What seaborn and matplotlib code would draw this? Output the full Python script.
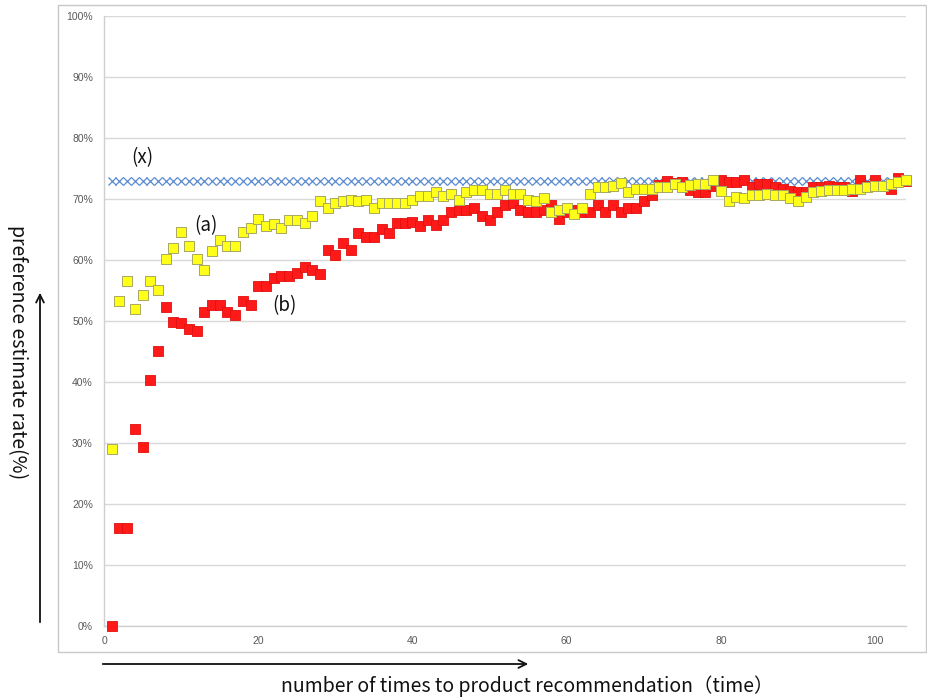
import numpy as np
import pandas as pd
import matplotlib
matplotlib.use("Agg")
import matplotlib.pyplot as plt
import matplotlib.patches as mpatches
import seaborn as sns

# ---------------- data ----------------
trials = list(range(1, 105))

series_b_red = [
    0.0, 16.0, 16.0, 32.3, 29.4, 40.3, 45.1, 52.3, 49.9, 49.7,
    48.7, 48.4, 51.5, 52.6, 52.6, 51.5, 51.0, 53.3, 52.6, 55.7,
    55.7, 57.0, 57.4, 57.4, 57.9, 58.9, 58.3, 57.7, 61.6, 60.8,
    62.8, 61.7, 64.4, 63.7, 63.7, 65.0, 64.4, 66.0, 66.0, 66.3,
    65.6, 66.6, 65.7, 66.6, 67.8, 68.2, 68.2, 68.5, 67.2, 66.6,
    67.8, 69.0, 69.3, 68.2, 67.8, 67.9, 68.2, 69.0, 66.8, 67.8,
    68.2, 67.8, 67.9, 69.0, 67.9, 69.0, 67.9, 68.6, 68.6, 69.7,
    70.7, 72.3, 73.0, 72.6, 72.8, 71.4, 71.1, 71.1, 72.2, 73.1,
    72.8, 72.8, 73.1, 72.0, 72.4, 72.4, 71.9, 71.6, 71.3, 71.2,
    71.1, 72.0, 72.0, 72.2, 71.9, 71.9, 71.3, 73.1, 72.2, 73.1,
    72.2, 71.6, 73.4, 73.0,
]

series_a_yellow = [
    29.0, 53.2, 56.6, 51.9, 54.2, 56.6, 55.1, 60.2, 62.0, 64.6,
    62.3, 60.2, 58.3, 61.5, 63.2, 62.3, 62.3, 64.6, 65.3, 66.8,
    65.6, 65.9, 65.3, 66.6, 66.6, 66.1, 67.2, 69.6, 68.5, 69.3,
    69.6, 69.8, 69.6, 69.9, 68.5, 69.3, 69.3, 69.3, 69.3, 69.9,
    70.5, 70.5, 71.1, 70.5, 70.8, 69.8, 71.1, 71.5, 71.5, 70.8,
    70.8, 71.5, 70.8, 70.8, 69.8, 69.6, 70.1, 67.8, 68.2, 68.5,
    67.5, 68.5, 70.8, 71.9, 71.9, 72.1, 72.7, 71.1, 71.6, 71.6,
    71.6, 72.0, 72.0, 72.4, 71.9, 72.3, 72.4, 72.4, 73.1, 71.3,
    69.7, 70.4, 70.1, 70.7, 70.7, 70.9, 70.7, 70.7, 70.1, 69.7,
    70.4, 71.1, 71.3, 71.5, 71.5, 71.5, 71.6, 71.6, 72.0, 72.2,
    72.2, 72.4, 72.8, 73.1,
]

series_x_level = [73.0] * len(trials)

x_ticks = [0, 20, 40, 60, 80, 100]
y_ticks = list(range(0, 101, 10))
y_tick_labels = [f"{v}%" for v in y_ticks]

df_x = pd.DataFrame({"trial": trials, "rate": series_x_level})
df_a = pd.DataFrame({"trial": trials, "rate": series_a_yellow})
df_b = pd.DataFrame({"trial": trials, "rate": series_b_red})

# ---------------- style ----------------
sns.set_style("white")
plt.rcParams["font.family"] = ["Noto Sans CJK JP", "DejaVu Sans"]

W, H = 927, 699
fig = plt.figure(figsize=(W / 100, H / 100), dpi=100)
ax = fig.add_axes([104 / W, (H - 626) / H, (906 - 104) / W, (626 - 16) / H])

# outer chart frame
frame = mpatches.Rectangle((58 / W, (H - 652) / H), (926 - 58) / W, (652 - 5) / H,
                           transform=fig.transFigure, fill=False,
                           edgecolor="#c8c8c8", linewidth=1.0, zorder=0)
fig.add_artist(frame)

# series
sns.scatterplot(data=df_x, x="trial", y="rate", ax=ax, marker="x", s=34,
                color="#5b8bd0", linewidth=0.9, zorder=3, clip_on=False, legend=False)
sns.scatterplot(data=df_b, x="trial", y="rate", ax=ax, marker="s", s=50,
                color="#ff1a1a", edgecolor="#e01010", linewidth=0.6, zorder=4,
                clip_on=False, legend=False)
sns.scatterplot(data=df_a, x="trial", y="rate", ax=ax, marker="s", s=42,
                color="#ffff1a", edgecolor="#a8a860", linewidth=0.7, zorder=5,
                clip_on=False, legend=False)

ax.set_xlim(0, 104)
ax.set_ylim(0, 100)
ax.set_xticks(x_ticks)
ax.set_yticks(y_ticks)
ax.set_yticklabels(y_tick_labels)
ax.set_xlabel("")
ax.set_ylabel("")

ax.yaxis.grid(True, color="#d9d9d9", linewidth=1.0)
ax.xaxis.grid(False)
ax.set_axisbelow(True)
for side in ["top", "right"]:
    ax.spines[side].set_visible(False)
for side in ["left", "bottom"]:
    ax.spines[side].set_color("#d0d0d0")
    ax.spines[side].set_linewidth(1.0)

ax.tick_params(axis="both", which="major", labelsize=7.5, labelcolor="#595959",
               color="#c0c0c0", length=4, width=0.8, direction="out")
ax.tick_params(axis="y", pad=4)
ax.tick_params(axis="x", pad=3)
for lbl in ax.get_xticklabels() + ax.get_yticklabels():
    lbl.set_family(["Liberation Sans", "DejaVu Sans"])

# series annotations
ax.text(142 / W, 1 - 158 / H, "(x)", transform=fig.transFigure, fontsize=13.5,
        ha="center", va="center", color="#111111")
ax.text(206 / W, 1 - 226 / H, "(a)", transform=fig.transFigure, fontsize=13.5,
        ha="center", va="center", color="#111111")
ax.text(284 / W, 1 - 306 / H, "(b)", transform=fig.transFigure, fontsize=13.5,
        ha="center", va="center", color="#111111")

# axis titles outside the chart frame
fig.text(18 / W, 1 - 352 / H, "preference estimate rate(%)", rotation=-90,
         fontsize=14, ha="center", va="center", color="#111111")
fig.text(527 / W, 1 - 686 / H, "number of times to product recommendation（time）",
         fontsize=14, ha="center", va="center", color="#111111",
         family=["Noto Sans CJK JP", "DejaVu Sans"])

# arrows
ax.annotate("", xy=(40, H - 290), xytext=(40, H - 625),
            xycoords="figure pixels", textcoords="figure pixels",
            arrowprops=dict(arrowstyle="->", color="#111111", lw=1.3,
                            mutation_scale=14))
ax.annotate("", xy=(531, H - 664), xytext=(100, H - 664),
            xycoords="figure pixels", textcoords="figure pixels",
            arrowprops=dict(arrowstyle="->", color="#111111", lw=1.3,
                            mutation_scale=14))

fig.savefig("out.png", dpi=100, facecolor="white")
